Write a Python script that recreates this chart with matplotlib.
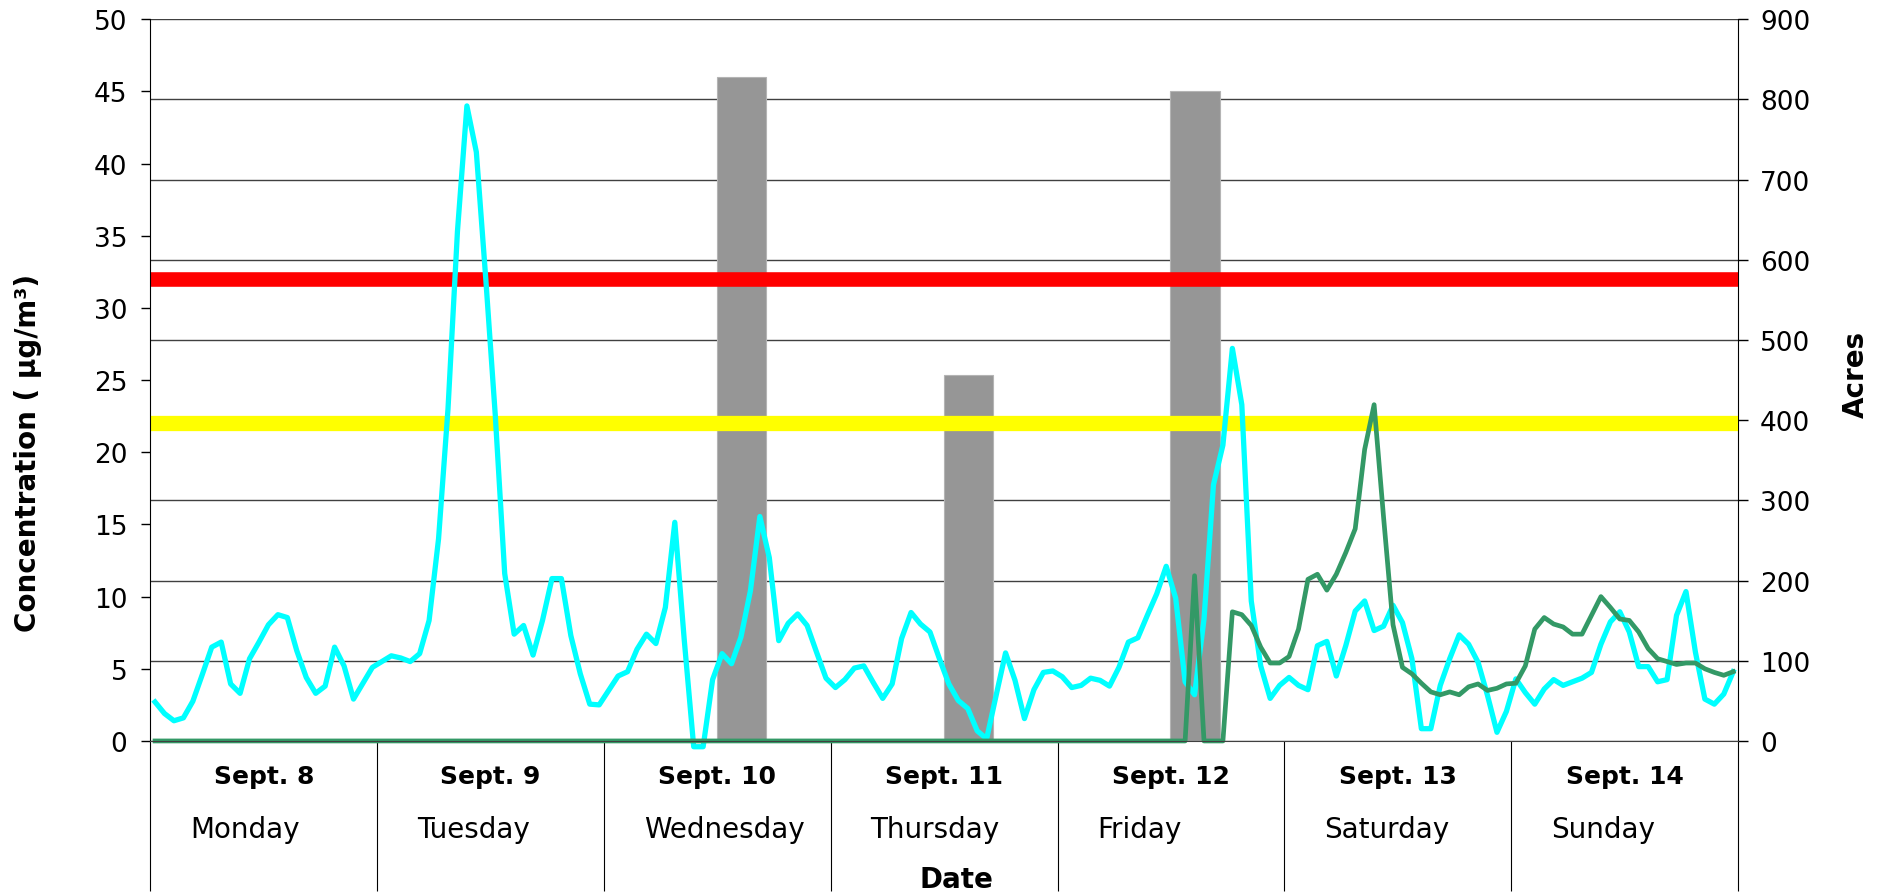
import numpy as np
import matplotlib.pyplot as plt

dates = ['Sept. 8', 'Sept. 9', 'Sept. 10', 'Sept. 11', 'Sept. 12', 'Sept. 13', 'Sept. 14']
weekdays = ['Monday', 'Tuesday', 'Wednesday', 'Thursday', 'Friday', 'Saturday', 'Sunday']

# hourly concentrations (ug/m3), one list of 24 values per day
conc_a = [
    [2.7, 1.9, 1.4, 1.6, 2.75, 4.6, 6.5, 6.85, 3.95, 3.3, 5.7, 6.85,
     8.05, 8.75, 8.55, 6.25, 4.4, 3.3, 3.8, 6.5, 5.2, 2.9, 4.0, 5.1],
    [5.5, 5.9, 5.75, 5.5, 6.05, 8.35, 14.0, 23.0, 35.3, 44.0, 40.8, 32.0,
     22.6, 11.6, 7.4, 8.0, 5.95, 8.35, 11.25, 11.25, 7.3, 4.65, 2.55, 2.5],
    [3.5, 4.5, 4.8, 6.35, 7.4, 6.75, 9.25, 15.15, 7.0, -0.4, -0.4, 4.25,
     6.05, 5.35, 7.2, 10.4, 15.55, 12.7, 6.95, 8.15, 8.8, 8.0, 6.15, 4.35],
    [3.7, 4.25, 5.05, 5.2, 4.05, 2.95, 3.95, 7.1, 8.9, 8.1, 7.55, 5.7,
     3.95, 2.8, 2.25, 0.7, 0.15, 3.15, 6.1, 4.2, 1.55, 3.55, 4.75, 4.85],
    [4.45, 3.7, 3.85, 4.35, 4.2, 3.8, 5.1, 6.85, 7.15, 8.7, 10.2, 12.1,
     9.9, 4.1, 3.2, 8.45, 17.75, 20.5, 27.2, 23.3, 9.7, 5.2, 2.95, 3.85],
    [4.4, 3.85, 3.55, 6.6, 6.9, 4.5, 6.6, 9.0, 9.7, 7.65, 7.95, 9.4,
     8.2, 5.7, 0.85, 0.85, 3.85, 5.7, 7.35, 6.7, 5.45, 3.15, 0.6, 2.05],
    [4.3, 3.35, 2.55, 3.6, 4.25, 3.85, 4.1, 4.35, 4.75, 6.7, 8.25, 8.95,
     7.55, 5.15, 5.15, 4.1, 4.25, 8.7, 10.35, 6.15, 2.9, 2.55, 3.25, 4.8],
]
conc_b = [
    [0, 0, 0, 0, 0, 0, 0, 0, 0, 0, 0, 0, 0, 0, 0, 0, 0, 0, 0, 0, 0, 0, 0, 0],
    [0, 0, 0, 0, 0, 0, 0, 0, 0, 0, 0, 0, 0, 0, 0, 0, 0, 0, 0, 0, 0, 0, 0, 0],
    [0, 0, 0, 0, 0, 0, 0, 0, 0, 0, 0, 0, 0, 0, 0, 0, 0, 0, 0, 0, 0, 0, 0, 0],
    [0, 0, 0, 0, 0, 0, 0, 0, 0, 0, 0, 0, 0, 0, 0, 0, 0, 0, 0, 0, 0, 0, 0, 0],
    [0, 0, 0, 0, 0, 0, 0, 0, 0, 0, 0, 0, 0, 0, 11.45, 0, 0, 0, 8.95, 8.75,
     8.0, 6.5, 5.4, 5.4],
    [5.85, 7.75, 11.2, 11.55, 10.45, 11.55, 13.05, 14.7, 20.2, 23.3, 15.5, 8.05,
     5.1, 4.65, 4.0, 3.4, 3.2, 3.4, 3.2, 3.75, 3.95, 3.5, 3.65, 3.95],
    [4.0, 5.2, 7.75, 8.55, 8.1, 7.9, 7.4, 7.4, 8.7, 10.0, 9.25, 8.45,
     8.35, 7.55, 6.4, 5.7, 5.5, 5.3, 5.4, 5.4, 5.0, 4.75, 4.55, 4.8],
]

# burned acres (right axis)
fire_days = [2, 3, 4]
fire_acres = [828, 457, 810]

limit_high = 32
limit_low = 22

hours = np.arange(len(dates) * 24)
a = np.concatenate(conc_a)
b = np.concatenate(conc_b)

fig = plt.figure(figsize=(18.86, 8.95), dpi=100)
ax = fig.add_axes([0.0797, 0.1710, 0.8418, 0.8063])
ax2 = ax.twinx()
ax.set_zorder(ax2.get_zorder() + 1)
ax.patch.set_visible(False)

# bars behind everything, gridlines follow the acres axis
ax2.bar(np.array(fire_days) * 24 + 14.05, fire_acres, width=5.2,
        color='#969696', edgecolor='#b4b4b4', linewidth=0.8)
ax2.set_ylim(0, 900)
ax2.set_yticks(np.arange(0, 901, 100))
ax2.yaxis.grid(True, color='#404040', linewidth=1)
ax2.set_axisbelow(True)
ax2.tick_params(axis='y', length=7, width=1, pad=9, labelsize=19)
ax2.set_ylabel('Acres', fontsize=20, fontweight='bold')
ax2.yaxis.set_label_coords(1.0653, 0.5086)
for s in ['top', 'left', 'bottom']:
    ax2.spines[s].set_visible(False)
ax2.spines['right'].set_color('black')

ax.axhline(limit_high, color='#ff0000', lw=10.5)
ax.axhline(limit_low, color='#ffff00', lw=11)
ax.plot(hours, a, color='#00ffff', lw=3.8, clip_on=False)
ax.plot(hours, b, color='#339966', lw=3.4, clip_on=False)

ax.set_xlim(-0.5, len(hours) - 0.5)
ax.set_ylim(0, 50)
ax.set_yticks(np.arange(0, 51, 5))
ax.tick_params(axis='y', length=6.5, width=1, pad=10, labelsize=19)
ax.set_xticks(np.arange(0, len(hours) + 1, 24) - 0.5)
ax.set_xticklabels([])
ax.tick_params(axis='x', length=108, width=0.8, color='black')
for s in ['top', 'right']:
    ax.spines[s].set_visible(False)
ax.spines['bottom'].set_color('#404040')

trans = ax.get_xaxis_transform()
for d, (date, wd) in enumerate(zip(dates, weekdays)):
    ax.text(d * 24 + 11.5, -0.0485, date, transform=trans, ha='center',
            va='center', fontsize=18, fontweight='bold')
    ax.text(d * 24 + 3.7, -0.122, wd, transform=trans, ha='left',
            va='center', fontsize=20)

ax.set_xlabel('Date', fontsize=20, fontweight='bold')
ax.xaxis.set_label_coords(0.508, -0.172)
ax.set_ylabel('Concentration ( µg/m³)', fontsize=20, fontweight='bold')
ax.yaxis.set_label_coords(-0.0683, 0.401)

fig.savefig('out.png', dpi=100)
